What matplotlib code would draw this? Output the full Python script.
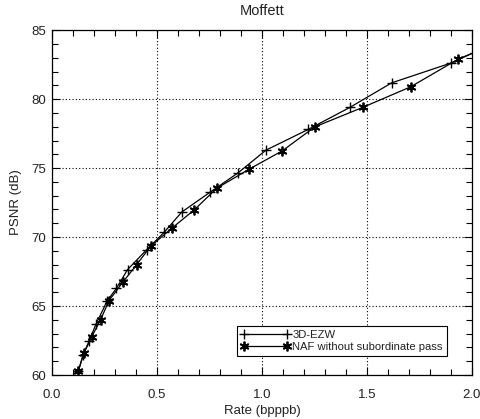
import matplotlib
matplotlib.use('Agg')
import matplotlib.pyplot as plt
from matplotlib.ticker import MultipleLocator

plt.rcParams['font.family'] = ['Liberation Sans', 'DejaVu Sans']

# --> Data
rate_ezw = [0.126, 0.148, 0.178, 0.210, 0.264, 0.307, 0.360, 0.451, 0.534, 0.618,
            0.752, 0.887, 1.019, 1.220, 1.419, 1.618, 1.903, 2.06]
psnr_ezw = [60.29, 61.45, 62.50, 63.70, 65.40, 66.28, 67.64, 69.08, 70.34, 71.81,
            73.24, 74.66, 76.30, 77.80, 79.40, 81.18, 82.63, 83.73]

rate_naf = [0.126, 0.152, 0.190, 0.232, 0.272, 0.337, 0.403, 0.470, 0.573, 0.677,
            0.784, 0.940, 1.097, 1.252, 1.480, 1.708, 1.935, 2.06]
psnr_naf = [60.31, 61.57, 62.78, 64.02, 65.40, 66.72, 67.99, 69.33, 70.67, 71.96,
            73.53, 74.93, 76.25, 77.99, 79.40, 80.89, 82.90, 83.70]

labels = ['3D-EZW', 'NAF without subordinate pass']
txt = '#222222'

fig = plt.figure(figsize=(4.81, 4.19), dpi=100)
ax = fig.add_axes([0.108, 0.105, 0.873, 0.823])

ax.plot(rate_ezw, psnr_ezw, color='black', linewidth=0.9, marker='+',
        markersize=7, markeredgewidth=1.0, label=labels[0])
ax.plot(rate_naf, psnr_naf, color='black', linewidth=0.9, marker=(6, 2, 0),
        markersize=7, markeredgewidth=1.3, label=labels[1])

ax.set_xlim(0, 2.0)
ax.set_ylim(60, 85)
ax.xaxis.set_minor_locator(MultipleLocator(0.1))
ax.yaxis.set_minor_locator(MultipleLocator(1))
ax.set_xticks([0.0, 0.5, 1.0, 1.5, 2.0])
ax.set_xticklabels(['0.0', '0.5', '1.0', '1.5', '2.0'])
ax.set_yticks([60, 65, 70, 75, 80, 85])
ax.set_yticklabels(['60', '65', '70', '75', '80', '85'])

ax.tick_params(which='both', direction='in', top=True, right=True,
               labelsize=9.5, labelcolor=txt, color='black', width=0.8)
ax.tick_params(axis='x', which='major', pad=10)
ax.tick_params(axis='y', which='major', pad=4)
ax.tick_params(which='major', length=6)
ax.tick_params(which='minor', length=4)
for s in ax.spines.values():
    s.set_linewidth(0.9)

ax.grid(True, which='major', linestyle=(0, (1, 2)), color='black', linewidth=0.8)

ax.set_title('Moffett', fontsize=10.5, pad=11, color=txt)
ax.set_xlabel('Rate (bpppb)', fontsize=9.5, labelpad=3, color=txt)
ax.set_ylabel('PSNR (dB)', fontsize=9.5, labelpad=7, color=txt)

leg = ax.legend(loc='lower right', bbox_to_anchor=(0.94, 0.055), fontsize=8.1,
                frameon=True, fancybox=False, edgecolor='black', framealpha=1,
                numpoints=2, handlelength=4.4, handletextpad=0.2, borderpad=0.35,
                labelspacing=0.15, borderaxespad=0)
leg.get_frame().set_linewidth(0.8)
for t in leg.get_texts():
    t.set_color(txt)

fig.savefig('out.png', dpi=100)
